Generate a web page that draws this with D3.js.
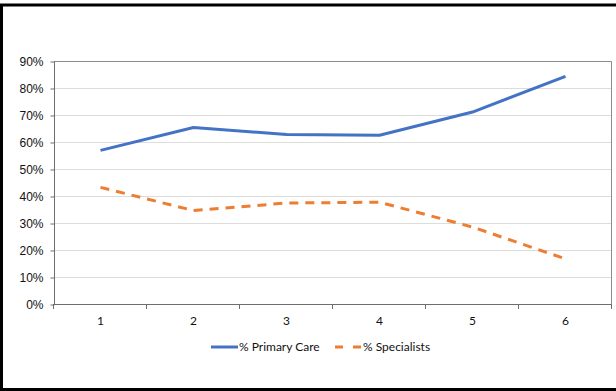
<!DOCTYPE html>
<html>
<head>
<meta charset="utf-8">
<script src="https://cdn.jsdelivr.net/npm/d3@7"></script>
<style>
  html, body { margin: 0; padding: 0; background: #fff; }
  svg { display: block; }
</style>
</head>
<body>
<div id="chart"></div>
<script>
// Share of visits by group.
const categories = ["1", "2", "3", "4", "5", "6"];
const primaryCare = [0.569, 0.654, 0.628, 0.625, 0.711, 0.843];
const specialists = [0.432, 0.346, 0.374, 0.377, 0.285, 0.167];
const yTicks = [0, 0.1, 0.2, 0.3, 0.4, 0.5, 0.6, 0.7, 0.8, 0.9];
const seriesNames = ["% Primary Care", "% Specialists"];

const WIDTH = 616, HEIGHT = 391;
const PLOT = { left: 54, right: 612, top: 61, bottom: 304 };

const svg = d3.select("#chart")
    .append("svg")
    .attr("width", WIDTH)
    .attr("height", HEIGHT);

// Outer frame, cut off on the right like the screenshot.
svg.append("rect")
    .attr("x", 1.5)
    .attr("y", 5)
    .attr("width", WIDTH + 10)
    .attr("height", 384.5)
    .attr("fill", "none")
    .attr("stroke", "#000")
    .attr("stroke-width", 3);

const xScale = d3.scaleBand()
    .domain(categories)
    .range([PLOT.left, PLOT.right]);

const yScale = d3.scaleLinear()
    .domain([0, 0.9])
    .range([PLOT.bottom, PLOT.top]);

// Horizontal gridlines.
svg.append("g")
    .selectAll("line")
    .data(yTicks.slice(1))
    .join("line")
    .attr("x1", PLOT.left)
    .attr("x2", PLOT.right)
    .attr("y1", d => Math.round(yScale(d)) + 0.5)
    .attr("y2", d => Math.round(yScale(d)) + 0.5)
    .attr("stroke", "#dcdcdc")
    .attr("stroke-width", 1);

// Plot border (top and right).
svg.append("path")
    .attr("d", `M${PLOT.left},${PLOT.top + 0.5}H${PLOT.right - 0.5}V${PLOT.bottom}`)
    .attr("fill", "none")
    .attr("stroke", "#8c8c8c")
    .attr("stroke-width", 1);

// Y axis.
const yAxis = svg.append("g")
    .attr("transform", `translate(${PLOT.left + 0.5}, 0.5)`)
    .call(d3.axisLeft(yScale)
        .tickValues(yTicks)
        .tickFormat(d3.format(".0%"))
        .tickSize(4)
        .tickPadding(7));
yAxis.select(".domain").attr("stroke", "#6e6e6e").attr("d", `M-0,${PLOT.top}V${PLOT.bottom}`);
yAxis.selectAll(".tick line").attr("stroke", "#6e6e6e");
yAxis.selectAll("text")
    .attr("font-family", "Liberation Sans, Arial, sans-serif")
    .attr("font-size", 12)
    .attr("fill", "#111");

// X axis: ticks sit on the category boundaries, labels at the centres.
const boundaries = categories.map(c => xScale(c)).concat([PLOT.right]);
const xAxis = svg.append("g");
xAxis.append("line")
    .attr("x1", PLOT.left)
    .attr("x2", PLOT.right)
    .attr("y1", PLOT.bottom + 0.5)
    .attr("y2", PLOT.bottom + 0.5)
    .attr("stroke", "#6e6e6e");
xAxis.selectAll("line.tick")
    .data(boundaries)
    .join("line")
    .attr("class", "tick")
    .attr("x1", d => Math.round(d) - 0.5)
    .attr("x2", d => Math.round(d) - 0.5)
    .attr("y1", PLOT.bottom)
    .attr("y2", PLOT.bottom + 5)
    .attr("stroke", "#6e6e6e");
xAxis.selectAll("text")
    .data(categories)
    .join("text")
    .attr("x", d => xScale(d) + xScale.bandwidth() / 2)
    .attr("y", 325)
    .attr("text-anchor", "middle")
    .attr("font-family", "Lato, sans-serif")
    .attr("font-size", 12)
    .attr("fill", "#111")
    .text(d => d);

// Series lines.
const lineFor = values => d3.line()
    .x((d, i) => xScale(categories[i]) + xScale.bandwidth() / 2)
    .y(d => yScale(d))(values);

svg.append("path")
    .attr("d", lineFor(primaryCare))
    .attr("fill", "none")
    .attr("stroke", "#4472c4")
    .attr("stroke-width", 3)
    .attr("stroke-linejoin", "round");

svg.append("path")
    .attr("d", lineFor(specialists))
    .attr("fill", "none")
    .attr("stroke", "#ed7d31")
    .attr("stroke-width", 3)
    .attr("stroke-dasharray", "9,7");

// Legend.
const legend = svg.append("g").attr("transform", "translate(0, 347)");
const legendItems = [
    { name: seriesNames[0], color: "#4472c4", dash: null, x: 211 },
    { name: seriesNames[1], color: "#ed7d31", dash: "8,10", x: 335 }
];
legendItems.forEach(item => {
    legend.append("line")
        .attr("x1", item.x)
        .attr("x2", item.x + 27)
        .attr("y1", 0)
        .attr("y2", 0)
        .attr("stroke", item.color)
        .attr("stroke-width", 3)
        .attr("stroke-dasharray", item.dash);
    legend.append("text")
        .attr("x", item.x + 28)
        .attr("y", 4)
        .attr("font-family", "Lato, sans-serif")
        .attr("font-size", 12)
        .attr("fill", "#111")
        .text(item.name);
});
</script>
</body>
</html>
